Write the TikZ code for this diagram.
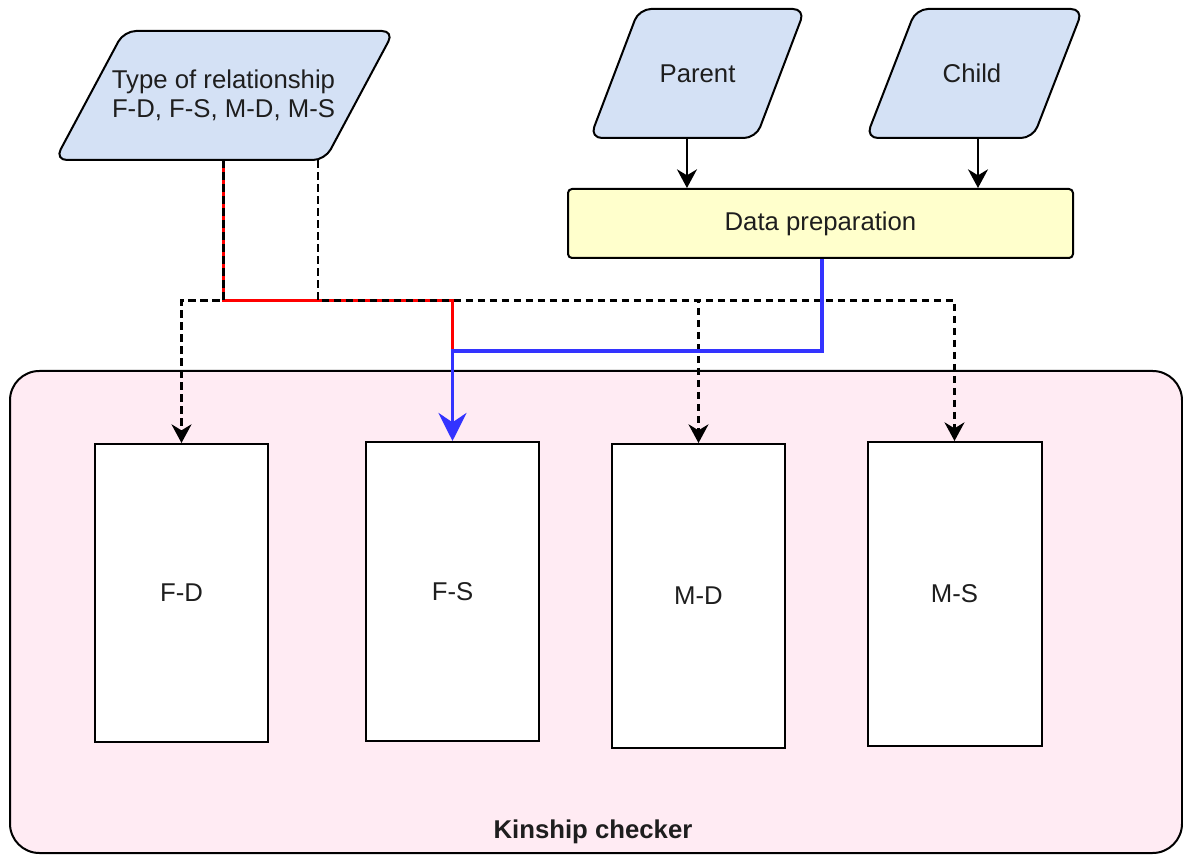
\documentclass[tikz,border=0pt]{standalone}
\usepackage{fontspec}
\setmainfont{Liberation Sans}
\usetikzlibrary{arrows.meta,calc}
\definecolor{inputfill}{HTML}{D4E1F5}
\definecolor{prepfill}{HTML}{FFFFCC}
\definecolor{groupfill}{HTML}{FFEBF3}
\definecolor{feedred}{HTML}{FF0000}
\definecolor{feedblue}{HTML}{3333FF}
\definecolor{ink}{HTML}{1E1E1E}
\begin{document}
\begin{tikzpicture}[x=0.75pt,y=-0.75pt,
  font=\fontsize{19.3}{21.8}\selectfont,
  every node/.style={text=ink, inner sep=0pt},
  inputshape/.style={draw=black, fill=inputfill, line width=1.5pt, rounded corners=9pt},
  inputtext/.style={minimum width=120pt, minimum height=96.75pt, align=center},
  group/.style={draw=black, fill=groupfill, line width=1.5pt, rounded corners=22pt,
    minimum width=879pt, minimum height=361.5pt},
  prep/.style={draw=black, fill=prepfill, line width=1.5pt, rounded corners=3pt,
    minimum width=378.75pt, minimum height=51.75pt},
  checker/.style={draw=black, fill=white, line width=1.5pt,
    minimum width=129.75pt},
  flow/.style={draw=black, line width=1.6pt,
    -{Stealth[length=14pt, width=15pt, inset=4.5pt]}},
  option/.style={draw=black, line width=1.8pt, dash pattern=on 5.5pt off 3.5pt,
    -{Stealth[length=14pt, width=15pt, inset=4.5pt]}},
  choice/.style={draw=feedred, line width=2.7pt},
  feed/.style={draw=feedblue, line width=2.8pt,
    -{Stealth[length=21pt, width=21pt, inset=7pt]}}
]
\useasboundingbox (0,0) rectangle (1183,855);

% input parallelograms
\draw[inputshape] (240,31) -- (394,31) -- (325,160) -- (55,160) -- (124,31) -- cycle;
\node[inputtext] (typ) at (223.5,95.5) {Type of relationship\\F-D, F-S, M-D, M-S};

\draw[inputshape] (720,9) -- (805,9) -- (756,138) -- (590,138) -- (639,9) -- cycle;
\node[inputtext] (par) at (697.5,73.5) {Parent};

\draw[inputshape] (1000,9) -- (1083,9) -- (1033,138) -- (866,138) -- (916,9) -- cycle;
\node[inputtext] (chd) at (972,73.5) {Child};

% preparation step
\node[prep] (dp) at (820.5,223.5) {Data preparation};

% checker group and its four models
\node[group] (kin) at (596,612) {};
\node[font=\fontsize{19.3}{21.8}\selectfont\bfseries] (kinlabel) at (593,832) {Kinship checker};

\node[checker, minimum height=223.5pt] (fd) at (181.5,593) {F-D};
\node[checker, minimum height=224.25pt] (fs) at (452.5,591.5) {F-S};
\node[checker, minimum height=228pt] (md) at (698.5,596) {M-D};
\node[checker, minimum width=130.5pt, minimum height=228pt] (ms) at (954.5,594) {M-S};

% routing coordinates
\coordinate (bus) at (0,300.5);
\coordinate (tr) at ([xshift=70.9pt]typ.south);
\coordinate (jn) at (fs.north |- 0,351);

% inputs into preparation
\draw[flow] ([xshift=-7.9pt]par.south) -- ([xshift=-7.9pt]par.south |- dp.north);
\draw[flow] ([xshift=4.5pt]chd.south) -- ([xshift=4.5pt]chd.south |- dp.north);

% selected relationship
\draw[choice] (typ.south) -- (typ.south |- bus) -- (bus -| jn) -- (jn);

% possible relationships
\draw[option] (typ.south) -- (typ.south |- bus) -- (bus -| fd.north) -- (fd.north);
\draw[option] (tr) -- (tr |- bus) -- (bus -| md.north) -- (md.north);
\draw[option] (tr) -- (tr |- bus) -- (bus -| ms.north) -- (ms.north);

% prepared data into the selected model
\draw[feed] ([xshift=1.1pt]dp.south) |- (jn) -- (fs.north);
\end{tikzpicture}
\end{document}
